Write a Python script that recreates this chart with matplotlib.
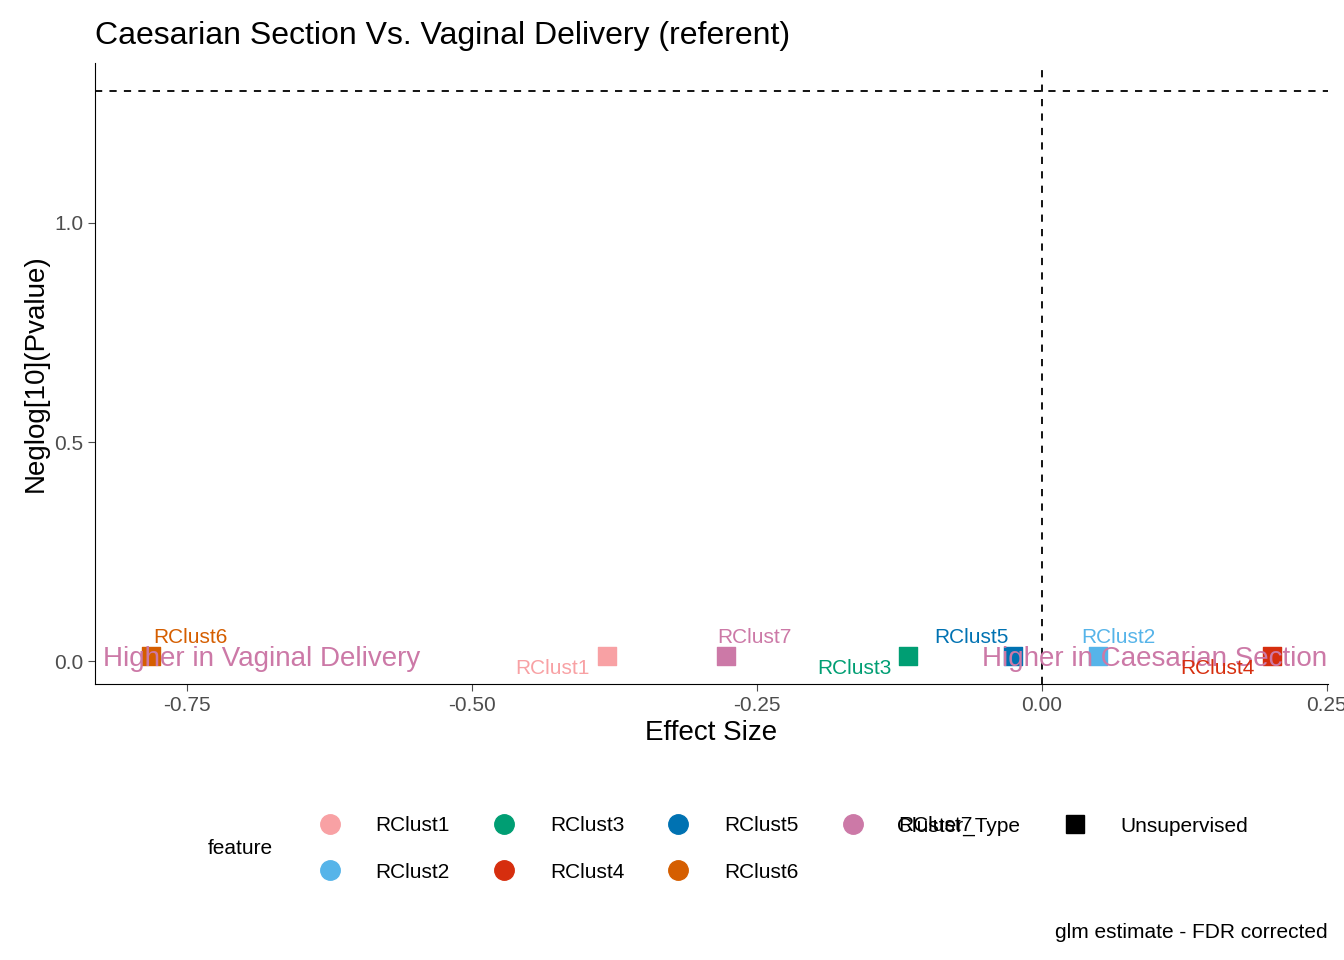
import matplotlib
matplotlib.use('Agg')
import matplotlib.pyplot as plt
from matplotlib.lines import Line2D

plt.rcParams['font.family'] = ['Liberation Sans', 'DejaVu Sans']

features = ['RClust1', 'RClust2', 'RClust3', 'RClust4', 'RClust5', 'RClust6', 'RClust7']
effect = [-0.382, 0.049, -0.118, 0.202, -0.025, -0.782, -0.277]
neglogp = [0.011, 0.011, 0.011, 0.011, 0.011, 0.011, 0.011]
colors = ['#F8A1A4', '#56B4E9', '#009E73', '#D62E0E', '#0072B2', '#D55E00', '#CC79A7']
# label offsets: above (+) or below (-)
label_dy = [-0.027, 0.043, -0.027, -0.027, 0.043, 0.043, 0.043]
label_dx = [-0.048, 0.018, -0.047, -0.048, -0.037, 0.035, 0.025]

fig = plt.figure(figsize=(13.44, 9.6), dpi=100)
ax = fig.add_axes([95/1344, 1-684/960, (1328-95)/1344, (684-63)/960])

for f, x, y, c, dx, dy in zip(features, effect, neglogp, colors, label_dx, label_dy):
    ax.scatter(x, y, marker='s', s=180, color=c, zorder=3)
    ax.text(x + dx, y + dy, f, color=c, fontsize=15, ha='center', va='center', zorder=4)

ax.axhline(1.301, color='black', linestyle=(0, (4, 4)), linewidth=1.3)
ax.axvline(0, color='black', linestyle=(0, (4, 4)), linewidth=1.3)

ax.text(-0.824, 0.005, 'Higher in Vaginal Delivery', color='#CC79A7', fontsize=20, ha='left', va='center')
ax.text(0.250, 0.005, 'Higher in Caesarian Section', color='#CC79A7', fontsize=20, ha='right', va='center')

ax.set_xlim(-0.831, 0.251)
ax.set_ylim(-0.052, 1.365)
ax.set_xticks([-0.75, -0.5, -0.25, 0.0, 0.25])
ax.set_xticklabels(['-0.75', '-0.50', '-0.25', '0.00', '0.25'])
ax.set_yticks([0.0, 0.5, 1.0])
ax.set_yticklabels(['0.0', '0.5', '1.0'])
ax.tick_params(labelsize=15, colors='#4D4D4D', length=5)
for s in ['top', 'right']:
    ax.spines[s].set_visible(False)
ax.set_xlabel('Effect Size', fontsize=20)
ax.set_ylabel('Neglog[10](Pvalue)', fontsize=20)
ax.set_title('Caesarian Section Vs. Vaginal Delivery (referent)', fontsize=23, loc='left', pad=14)

# legends
handles = [Line2D([], [], marker='o', linestyle='', markersize=14, color=c) for c in colors]
fig.legend(handles, features, ncol=4, loc='center left',
           bbox_to_anchor=(290/1344, 1-849/960), frameon=False,
           fontsize=15, columnspacing=1.6, handletextpad=1.2, labelspacing=1.3)
fig.text(208/1344, 1-849/960, 'feature', fontsize=15, va='center')
fig.text(897/1344, 1-826/960, 'Cluster_Type', fontsize=15, va='center')
fig.legend([Line2D([], [], marker='s', linestyle='', markersize=13, color='black')], ['Unsupervised'],
           loc='center left', bbox_to_anchor=(1035/1344, 1-826/960), frameon=False, fontsize=15,
           handletextpad=1.2)
fig.text(1328/1344, 1-933/960, 'glm estimate - FDR corrected', fontsize=15, ha='right', va='center')

fig.savefig('out.png', dpi=100)
